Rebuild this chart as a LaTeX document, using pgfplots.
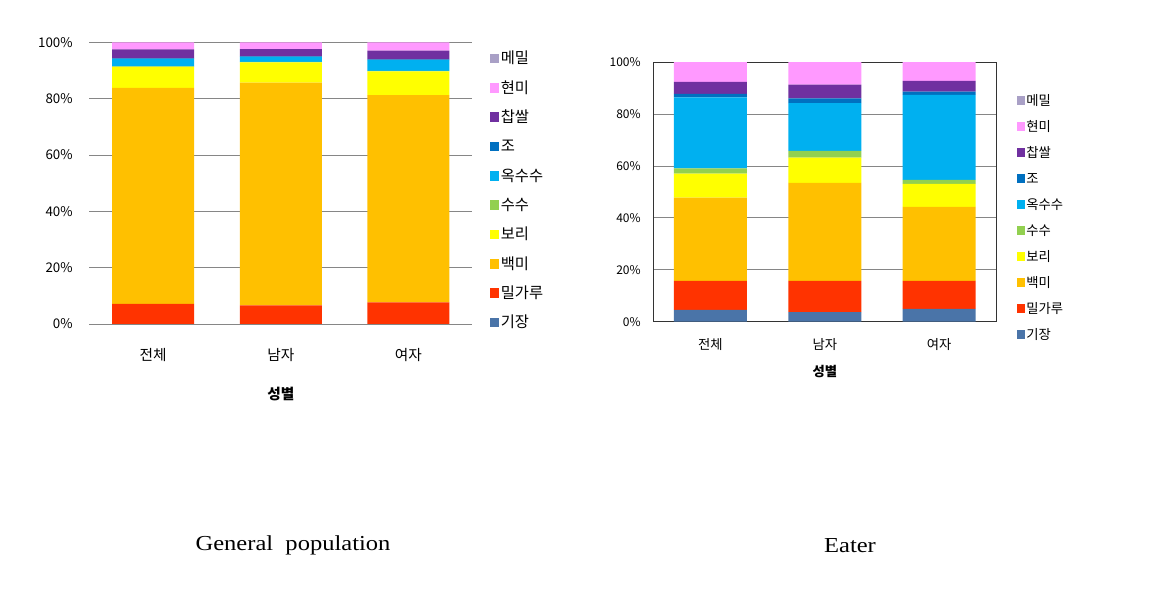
\documentclass[border=0pt]{standalone}
\usepackage{fontspec}
\usepackage{pgfplots}
\usepackage{pgfplotstable}
\pgfplotsset{compat=1.18}
\setmainfont{Noto Sans CJK KR}
\newfontfamily\capfont[FakeStretch=1.15]{Liberation Serif}

\definecolor{cMemil}{HTML}{A9A0C6}
\definecolor{cHyeonmi}{HTML}{FF99FF}
\definecolor{cChap}{HTML}{7030A0}
\definecolor{cJo}{HTML}{0070C0}
\definecolor{cOk}{HTML}{00B0F0}
\definecolor{cSusu}{HTML}{92D050}
\definecolor{cBori}{HTML}{FFFF00}
\definecolor{cBaek}{HTML}{FFC000}
\definecolor{cMil}{HTML}{FF3300}
\definecolor{cGi}{HTML}{4A74A8}
\definecolor{gridgray}{HTML}{868686}

% general population (percent)
\pgfplotstableread{
x gijang milgaru baekmi bori susu oksusu jo chapssal hyeonmi memil
0 0   7.1 76.7 7.5 0.1 2.7 0.2 3.2 2.5 0
1 0   6.6 79.1 7.2 0.1 1.8 0.2 2.6 2.4 0
2 0   7.7 73.5 8.5 0.1 3.9 0.2 3.1 3.0 0
}\general

% eaters (percent)
\pgfplotstableread{
x gijang milgaru baekmi bori susu oksusu jo chapssal hyeonmi memil
0 4.5 11.2 32.1 9.3 2.0 27.3 1.4 4.6 7.6 0
1 3.7 12.0 37.8 9.7 2.6 18.4 1.9 5.3 8.6 0
2 4.9 10.8 28.5 8.9 1.5 32.8 1.3 4.1 7.2 0
}\eater

\pgfplotsset{
  grainbars/.style={
    ybar stacked,
    scale only axis,
    xmin=-0.5, xmax=2.5,
    ymin=0, ymax=100,
    xtick=data,
    xticklabels={전체,남자,여자},
    ytick={0,20,40,60,80,100},
    yticklabels={0\%,20\%,40\%,60\%,80\%,100\%},
    major tick length=0pt,
    ymajorgrids,
    grid style={gridgray, line width=0.6pt},
    xlabel={\bfseries 성별},
    reverse legend,
    legend cell align=left,
  },
}

\begin{document}
\begin{tikzpicture}
\useasboundingbox (0,0) rectangle (869.25pt,443.25pt);

\begin{axis}[grainbars,
  at={(67pt,200.25pt)}, anchor=south west,
  width=287.2pt, height=211.3pt,
  bar width=61.5pt,
  axis line style={draw=none},
  tick label style={font=\fontsize{10}{12}\selectfont},
  xticklabel style={font=\fontsize{11}{13}\selectfont, yshift=-15pt},
  yticklabel style={xshift=-9pt},
  xlabel style={font=\fontsize{11}{13}\selectfont, yshift=-12pt},
  legend style={draw=none, at={(1,1)}, anchor=north west, xshift=10pt, yshift=-4pt,
    font=\fontsize{11.5}{13}\selectfont, row sep=8pt,
    nodes={inner sep=1pt, text height=9pt, text depth=3pt}},
  legend image code/.code={\fill[#1] (0pt,-2.6pt) rectangle (7.2pt,4.6pt);},
]
\addplot[fill=cGi, draw=none] table[y=gijang] {\general};
\addplot[fill=cMil, draw=none] table[y=milgaru] {\general};
\addplot[fill=cBaek, draw=none] table[y=baekmi] {\general};
\addplot[fill=cBori, draw=none] table[y=bori] {\general};
\addplot[fill=cSusu, draw=none] table[y=susu] {\general};
\addplot[fill=cOk, draw=none] table[y=oksusu] {\general};
\addplot[fill=cJo, draw=none] table[y=jo] {\general};
\addplot[fill=cChap, draw=none] table[y=chapssal] {\general};
\addplot[fill=cHyeonmi, draw=none] table[y=hyeonmi] {\general};
\addplot[fill=cMemil, draw=none] table[y=memil] {\general};
\legend{기장,밀가루,백미,보리,수수,옥수수,조,찹쌀,현미,메밀}
\end{axis}

\begin{axis}[grainbars,
  at={(490pt,202pt)}, anchor=south west,
  width=257.2pt, height=194.6pt,
  bar width=54.75pt,
  axis line style={draw=black!80, line width=0.8pt},
  tick label style={font=\fontsize{9}{11}\selectfont},
  xticklabel style={font=\fontsize{10}{12}\selectfont, yshift=-9pt},
  yticklabel style={xshift=-6pt},
  xlabel style={font=\fontsize{10}{12}\selectfont, yshift=-4pt},
  legend style={draw=none, at={(1,1)}, anchor=north west, xshift=12pt, yshift=-21pt,
    font=\fontsize{10}{12}\selectfont, row sep=6.5pt,
    nodes={inner sep=1pt, text height=8pt, text depth=3pt}},
  legend image code/.code={\fill[#1] (0pt,-2.4pt) rectangle (6.4pt,4.0pt);},
]
\addplot[fill=cGi, draw=none] table[y=gijang] {\eater};
\addplot[fill=cMil, draw=none] table[y=milgaru] {\eater};
\addplot[fill=cBaek, draw=none] table[y=baekmi] {\eater};
\addplot[fill=cBori, draw=none] table[y=bori] {\eater};
\addplot[fill=cSusu, draw=none] table[y=susu] {\eater};
\addplot[fill=cOk, draw=none] table[y=oksusu] {\eater};
\addplot[fill=cJo, draw=none] table[y=jo] {\eater};
\addplot[fill=cChap, draw=none] table[y=chapssal] {\eater};
\addplot[fill=cHyeonmi, draw=none] table[y=hyeonmi] {\eater};
\addplot[fill=cMemil, draw=none] table[y=memil] {\eater};
\legend{기장,밀가루,백미,보리,수수,옥수수,조,찹쌀,현미,메밀}
\end{axis}

\node[font=\capfont\fontsize{16}{19}\selectfont] at (219.75pt,34pt) {General\ \ population};
\node[font=\capfont\fontsize{16}{19}\selectfont] at (637.5pt,34pt) {Eater};
\end{tikzpicture}
\end{document}
